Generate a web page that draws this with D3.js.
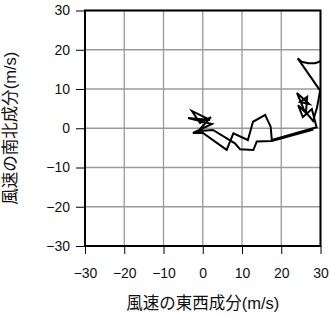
<!DOCTYPE html>
<html><head><meta charset="utf-8">
<script src="https://cdn.jsdelivr.net/npm/d3@7"></script>
<style>body{margin:0;background:#fff}svg{display:block}</style>
</head><body>
<script>
// hodograph: east-west (u) and north-south (v) wind components, m/s
const uValues = [32, 28.6, 26.9, 25.2, 24.2, 29.9, 29.1, 28.1, 25.8, 24.0, 27.1, 24.8, 26.6, 26.3, 24.3, 25.5, 27.8, 29.0,
  17.6, 17.3, 15.9, 12.8, 11.5, 7.8, 6.1, 0.05, -2.5, 2.35, -3.75, 1.85, -2.75, -0.7, 2.1, -1.2, 2.6,
  8.2, 9.5, 12.9, 13.75, 17.6, 28.2];
const vValues = [17.8, 16.55, 16.55, 16.95, 17.8, 9.6, 5.2, 1.85, 4.65, 9.0, 6.2, 6.7, 8.0, 3.9, 5.9, 2.85, 4.9, 0.25,
  -3.0, 0.4, 3.4, 1.65, -3.0, -1.3, -5.5, -1.2, -1.2, 1.1, 2.6, 2.1, 4.4, 1.35, 2.85, -0.7, -0.45,
  -3.85, -5.35, -5.55, -3.4, -3.25, -0.35];
const xTicks = [-30, -20, -10, 0, 10, 20, 30];
const yTicks = [-30, -20, -10, 0, 10, 20, 30];
const xTitle = "風速の東西成分(m/s)";
const yTitle = "風速の南北成分(m/s)";

const W = 331, H = 318;
const m = {left: 85, top: 10.5, w: 235.5, h: 235.5};
const svg = d3.select("body").append("svg").attr("width", W).attr("height", H);
const x = d3.scaleLinear().domain([-30, 30]).range([m.left, m.left + m.w]);
const y = d3.scaleLinear().domain([-30, 30]).range([m.top + m.h, m.top]);
const font = "'Liberation Sans', Arial, 'Noto Sans CJK JP', sans-serif";

// grid
const g = svg.append("g");
g.selectAll(".gx").data(xTicks).join("line")
  .attr("x1", d => x(d)).attr("x2", d => x(d)).attr("y1", m.top).attr("y2", m.top + m.h)
  .attr("stroke", "#9a9a9a").attr("stroke-width", 1.3);
g.selectAll(".gy").data(yTicks).join("line")
  .attr("y1", d => y(d)).attr("y2", d => y(d)).attr("x1", m.left).attr("x2", m.left + m.w)
  .attr("stroke", "#9a9a9a").attr("stroke-width", 1.3);

// data path
svg.append("clipPath").attr("id", "clip").append("rect")
  .attr("x", m.left).attr("y", m.top).attr("width", m.w).attr("height", m.h);
const pts = uValues.map((u, i) => [u, vValues[i]]);
svg.append("path").datum(pts)
  .attr("clip-path", "url(#clip)")
  .attr("d", d3.line().x(d => x(d[0])).y(d => y(d[1])))
  .attr("fill", "none").attr("stroke", "#000").attr("stroke-width", 2)
  .attr("stroke-linejoin", "miter");

// axes
const ax = d3.axisBottom(x).tickValues(xTicks).tickSize(8).tickPadding(14)
  .tickFormat(d => d < 0 ? "\u2212" + Math.abs(d) : d);
const ay = d3.axisLeft(y).tickValues(yTicks).tickSize(9).tickPadding(6)
  .tickFormat(d => d < 0 ? "\u2212" + Math.abs(d) : d);
const gx = svg.append("g").attr("transform", `translate(0,${m.top + m.h})`).call(ax);
const gy = svg.append("g").attr("transform", `translate(${m.left},0)`).call(ay);
[gx, gy].forEach(a => {
  a.select(".domain").remove();
  a.selectAll(".tick line").attr("stroke", "#000").attr("stroke-width", 1);
  a.selectAll("text").attr("font-family", font).attr("font-size", 14).attr("fill", "#111");
});
// frame
svg.append("rect").attr("x", m.left).attr("y", m.top).attr("width", m.w).attr("height", m.h)
  .attr("fill", "none").attr("stroke", "#000").attr("stroke-width", 2);

// titles
svg.append("text").attr("x", x(0)).attr("y", 309).attr("text-anchor", "middle")
  .attr("font-family", font).attr("font-size", 16.5).attr("fill", "#111").text(xTitle);
svg.append("text").attr("transform", `translate(16,${y(0)}) rotate(-90)`).attr("text-anchor", "middle")
  .attr("font-family", font).attr("font-size", 16.5).attr("fill", "#111").text(yTitle);
</script>
</body></html>
